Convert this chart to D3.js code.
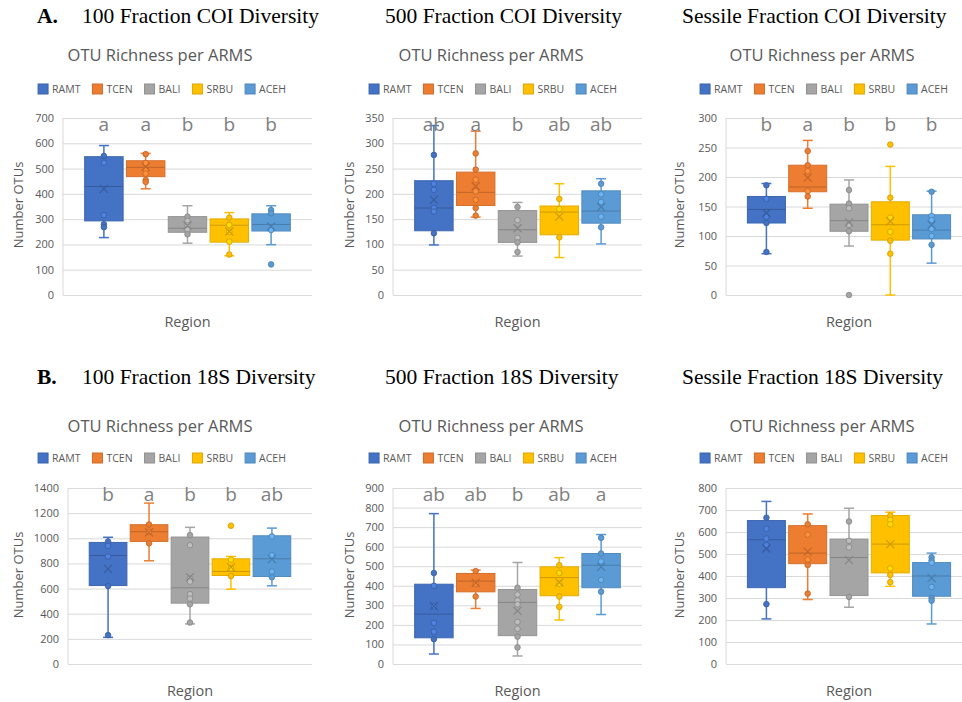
<!DOCTYPE html>
<html>
<head>
<meta charset="utf-8">
<script src="https://cdnjs.cloudflare.com/ajax/libs/d3/7.8.5/d3.min.js"></script>
<style>
  body { margin: 0; background: #fff; }
  text { font-family: "Open Sans", sans-serif; }
</style>
</head>
<body>
<script>
// Regions (series) and their colours
var regions = ["RAMT", "TCEN", "BALI", "SRBU", "ACEH"];
var regionColors = ["#4472C4", "#ED7D31", "#A5A5A5", "#FFC000", "#5B9BD5"];

// Box stats per region: [low whisker, q1, median, q3, high whisker, mean]
var coi100Stats = [[227, 293, 429, 547, 591, 420], [420, 468, 505, 531, 560, 507], [205, 248, 264, 310, 353, 275], [155, 209, 276, 301, 326, 251], [199, 253, 279, 321, 353, 271]];
var coi100Points = [[550, 523, 316, 280, 268], [557, 522, 495, 480, 455, 447], [310, 293, 275, 258, 240], [306, 277, 250, 211, 160], [336, 323, 257, 121]];
var coi100Letters = ["a", "a", "b", "b", "b"];
var coi100Ticks = [0, 100, 200, 300, 400, 500, 600, 700];

var coi500Stats = [[99, 127, 172, 226, 335, 188], [154, 177, 203, 243, 324, 215], [77, 104, 129, 167, 183, 132], [74, 119, 164, 176, 220, 155], [101, 142, 166, 206, 230, 174]];
var coi500Points = [[277, 220, 208, 172, 165, 122], [280, 248, 228, 205, 188, 172, 157], [174, 148, 113, 104, 85], [190, 170, 114], [220, 199, 184, 155, 134]];
var coi500Letters = ["ab", "a", "b", "ab", "ab"];
var coi500Ticks = [0, 50, 100, 150, 200, 250, 300, 350];

var coiSesStats = [[70, 122, 145, 167, 189, 139], [147, 175, 183, 220, 262, 199], [83, 108, 126, 154, 195, 123], [0, 93, 119, 158, 218, 125], [54, 95, 110, 136, 176, 119]];
var coiSesPoints = [[186, 163, 133, 122, 73], [244, 220, 210, 176, 167], [178, 155, 147, 119, 108, 0], [255, 165, 131, 107, 92, 70], [175, 134, 127, 112, 100, 85]];
var coiSesLetters = ["b", "a", "b", "b", "b"];
var coiSesTicks = [0, 50, 100, 150, 200, 250, 300];

var s18100Stats = [[212, 624, 863, 967, 1008, 757], [821, 975, 1052, 1108, 1280, 1047], [319, 484, 606, 1010, 1087, 691], [595, 704, 736, 837, 855, 770], [622, 696, 837, 1020, 1081, 834]];
var s18100Points = [[975, 940, 855, 620, 230], [1110, 1050, 960], [1025, 945, 680, 655, 555, 520, 475, 330], [1100, 830, 760, 700], [1015, 865, 735, 690]];
var s18100Letters = ["b", "a", "b", "b", "ab"];
var s18100Ticks = [0, 200, 400, 600, 800, 1000, 1200, 1400];

var s18500Stats = [[51, 134, 255, 408, 769, 296], [284, 369, 424, 463, 480, 415], [41, 145, 315, 381, 519, 272], [225, 349, 442, 497, 544, 417], [253, 390, 505, 565, 662, 497]];
var s18500Points = [[465, 400, 295, 210, 165, 127], [475, 410, 345], [390, 355, 325, 305, 215, 180, 140, 85], [505, 465, 410, 345, 292], [645, 565, 525, 430, 370]];
var s18500Letters = ["ab", "ab", "b", "ab", "a"];
var s18500Ticks = [0, 100, 200, 300, 400, 500, 600, 700, 800, 900];

var s18SesStats = [[205, 347, 565, 652, 739, 525], [293, 456, 504, 629, 682, 511], [258, 311, 484, 568, 708, 472], [353, 414, 545, 675, 690, 545], [182, 308, 400, 461, 504, 390]];
var s18SesPoints = [[665, 615, 570, 540, 272], [635, 588, 475, 450, 320], [648, 560, 530, 305], [675, 655, 635, 435, 405, 372], [485, 470, 460, 350, 300, 288]];
var s18SesLetters = ["", "", "", "", ""];
var s18SesTicks = [0, 100, 200, 300, 400, 500, 600, 700, 800];

// layout of the two rows and three columns
var rows = [
  {tag: "A.", titleY: 23, chartTitleY: 61, legendY: 89, top: 118, bottom: 295, regionY: 327, yLabelY: 205},
  {tag: "B.", titleY: 384, chartTitleY: 432, legendY: 458, top: 488, bottom: 664, regionY: 696, yLabelY: 575}
];
var cols = [
  {titleX: 82, chartTitleX: 160, legendX: 162, yLabelX: 18, left: 63, right: 312},
  {titleX: 385, chartTitleX: 491, legendX: 493, yLabelX: 349, left: 393, right: 642},
  {titleX: 682, chartTitleX: 822, legendX: 824, yLabelX: 679, left: 726, right: 972}
];

var panels = [
  {row: 0, col: 0, title: "100 Fraction COI Diversity", stats: coi100Stats, points: coi100Points, letters: coi100Letters, ticks: coi100Ticks},
  {row: 0, col: 1, title: "500 Fraction COI Diversity", stats: coi500Stats, points: coi500Points, letters: coi500Letters, ticks: coi500Ticks},
  {row: 0, col: 2, title: "Sessile Fraction COI Diversity", stats: coiSesStats, points: coiSesPoints, letters: coiSesLetters, ticks: coiSesTicks},
  {row: 1, col: 0, title: "100 Fraction 18S Diversity", stats: s18100Stats, points: s18100Points, letters: s18100Letters, ticks: s18100Ticks, left: 68},
  {row: 1, col: 1, title: "500 Fraction 18S Diversity", stats: s18500Stats, points: s18500Points, letters: s18500Letters, ticks: s18500Ticks},
  {row: 1, col: 2, title: "Sessile Fraction 18S Diversity", stats: s18SesStats, points: s18SesPoints, letters: s18SesLetters, ticks: s18SesTicks}
];

var svg = d3.select("body").append("svg")
    .attr("width", 962)
    .attr("height", 702);

var color = d3.scaleOrdinal().domain(regions).range(regionColors);

panels.forEach(function(p) {
  var r = rows[p.row], c = cols[p.col];
  var left = p.left || c.left, right = c.right;
  var g = svg.append("g");

  // figure titles (serif)
  if (p.col == 0) {
    g.append("text").text(r.tag)
      .attr("x", 37).attr("y", r.titleY)
      .style("font-family", "'Liberation Serif', 'Times New Roman', serif")
      .style("font-weight", "bold").style("font-size", "21.5px").attr("fill", "#000");
  }
  g.append("text").text(p.title)
    .attr("x", c.titleX).attr("y", r.titleY)
    .style("font-family", "'Liberation Serif', 'Times New Roman', serif")
    .style("font-size", "21.5px").attr("fill", "#000");

  // chart title
  g.append("text").text("OTU Richness per ARMS")
    .attr("x", c.chartTitleX).attr("y", r.chartTitleY)
    .attr("text-anchor", "middle")
    .style("font-size", "16.5px").attr("fill", "#595959");

  // legend
  var leg = g.append("g");
  var lx = 0;
  regions.forEach(function(name) {
    var item = leg.append("g").attr("transform", "translate(" + lx + ",0)");
    item.append("rect")
      .attr("x", 0).attr("y", -5).attr("width", 10).attr("height", 10)
      .attr("fill", color(name))
      .attr("stroke", d3.color(color(name)).darker(0.4));
    var t = item.append("text").text(name)
      .attr("x", 14).attr("y", 4)
      .style("font-size", "10.5px").attr("fill", "#595959");
    lx += 14 + t.node().getComputedTextLength() + 12;
  });
  var legW = lx - 12;
  leg.attr("transform", "translate(" + (c.legendX - legW / 2) + "," + r.legendY + ")");

  // scales
  var y = d3.scaleLinear().domain([0, d3.max(p.ticks)]).range([r.bottom, r.top]);
  var groupW = (right - left) * 0.826;
  var gx = (left + right) / 2 - groupW / 2;
  var x = d3.scaleBand().domain(regions).range([gx, gx + groupW]).paddingInner(0.08);

  // y axis with gridlines
  var axis = g.append("g")
    .attr("transform", "translate(" + left + ",0)")
    .call(d3.axisLeft(y).tickValues(p.ticks).tickFormat(d3.format("d"))
      .tickSize(-(right - left)).tickPadding(9));
  axis.select(".domain").remove();
  axis.selectAll(".tick line").attr("stroke", "#d9d9d9");
  axis.selectAll(".tick text")
    .style("font-family", "'Open Sans', sans-serif")
    .style("font-size", "11px").attr("fill", "#595959");
  g.append("line")
    .attr("x1", left).attr("x2", left)
    .attr("y1", r.top).attr("y2", r.bottom)
    .attr("stroke", "#d9d9d9");

  // axis titles
  g.append("text").text("Number OTUs")
    .attr("transform", "translate(" + (c.yLabelX + 5) + "," + r.yLabelY + ") rotate(-90)")
    .attr("text-anchor", "middle")
    .style("font-size", "13px").attr("fill", "#595959");
  g.append("text").text("Region")
    .attr("x", gx + groupW / 2).attr("y", r.regionY)
    .attr("text-anchor", "middle")
    .style("font-size", "14.5px").attr("fill", "#595959");

  // boxes
  var boxes = g.selectAll(".box")
    .data(regions.map(function(name, i) {
      return {name: name, s: p.stats[i], pts: p.points[i], letter: p.letters[i]};
    }))
    .enter().append("g").attr("class", "box");

  boxes.each(function(d) {
    var b = d3.select(this);
    var col = color(d.name);
    var dark = d3.color(col).darker(0.6).toString();
    var cx = x(d.name) + x.bandwidth() / 2;
    var cap = 5;
    var s = d.s;

    // whiskers
    b.append("line").attr("x1", cx).attr("x2", cx)
      .attr("y1", y(s[0])).attr("y2", y(s[1]))
      .attr("stroke", col).attr("stroke-width", 1.5);
    b.append("line").attr("x1", cx).attr("x2", cx)
      .attr("y1", y(s[3])).attr("y2", y(s[4]))
      .attr("stroke", col).attr("stroke-width", 1.5);
    [s[0], s[4]].forEach(function(v) {
      b.append("line").attr("x1", cx - cap).attr("x2", cx + cap)
        .attr("y1", y(v)).attr("y2", y(v))
        .attr("stroke", col).attr("stroke-width", 1.5);
    });

    // box
    b.append("rect")
      .attr("x", x(d.name)).attr("width", x.bandwidth())
      .attr("y", y(s[3])).attr("height", y(s[1]) - y(s[3]))
      .attr("fill", col).attr("stroke", d3.color(col).darker(0.3)).attr("stroke-width", 1);

    // median
    b.append("line")
      .attr("x1", x(d.name)).attr("x2", x(d.name) + x.bandwidth())
      .attr("y1", y(s[2])).attr("y2", y(s[2]))
      .attr("stroke", dark).attr("stroke-width", 1);

    // points
    b.selectAll("circle").data(d.pts).enter().append("circle")
      .attr("cx", cx).attr("cy", function(v) { return y(v); })
      .attr("r", 2.8)
      .attr("fill", function(v) {
        return (v > s[1] && v < s[3]) ? d3.color(col).brighter(0.4) : col;
      })
      .attr("stroke", dark).attr("stroke-width", 0.8);

    // mean marker (x)
    var my = y(s[5]), m = 4;
    b.append("path")
      .attr("d", "M" + (cx - m) + "," + (my - m) + "L" + (cx + m) + "," + (my + m) +
                 "M" + (cx - m) + "," + (my + m) + "L" + (cx + m) + "," + (my - m))
      .attr("stroke", dark).attr("stroke-width", 1.2).attr("fill", "none");

    // significance letter
    b.append("text").text(d.letter)
      .attr("x", cx).attr("y", r.top + 13)
      .attr("text-anchor", "middle")
      .style("font-size", "19px").attr("fill", "#808080");
  });
});
</script>
</body>
</html>
